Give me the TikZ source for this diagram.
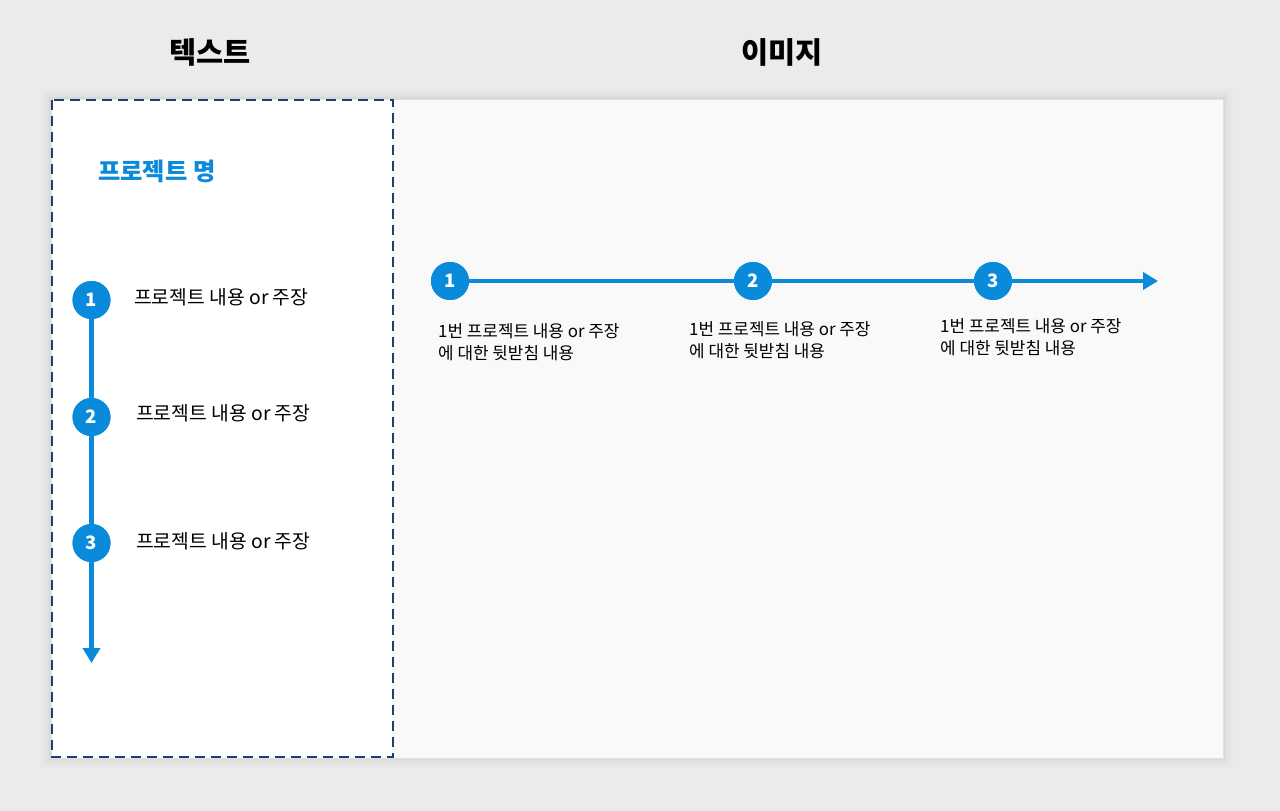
\documentclass[tikz,border=0pt]{standalone}
\usepackage{fontspec}
\setmainfont{Noto Sans CJK KR}
\usetikzlibrary{arrows.meta}
\definecolor{bgc}{HTML}{EBEBEB}
\definecolor{slidec}{HTML}{F9F9F9}
\definecolor{navy}{HTML}{1F3F74}
\definecolor{bluec}{HTML}{0A8ADB}
\begin{document}
\begin{tikzpicture}[x=1pt,y=-1pt,
  num/.style={circle,fill=bluec,minimum size=38pt,inner sep=0pt,text=white,font=\fontsize{18.5}{20}\selectfont\bfseries},
  body/.style={anchor=west,inner sep=0pt,font=\fontsize{19.3}{24}\selectfont,text=black},
  sub/.style={anchor=north west,inner sep=0pt,align=left,font=\fontsize{16.9}{22}\selectfont,text=black},
  title/.style={font=\fontsize{29.5}{30}\selectfont\bfseries,text=black},
  flow/.style={draw=bluec,line width=4.5pt,-{Triangle[length=15pt,width=17pt]}}]
\useasboundingbox (0,0) rectangle (1280,811);
\fill[bgc] (0,0) rectangle (1280,811);
% shadow
\foreach \i/\o in {10/0.012,7/0.015,4/0.02,2/0.025}{\fill[black,opacity=\o] (51-\i,99-\i) rectangle (1223+\i,758+\i);}
\fill[slidec,draw=black!12,line width=0.8pt] (51,99) rectangle (1223,758);
\fill[white] (52,100) rectangle (393,757);
\draw[navy,line width=2.4pt,dash pattern=on 10pt off 6pt] (52,100) rectangle (393,757);
% titles
\node[title] (t1) at (210,52) {텍스트};
\node[title] (t2) at (782,52) {이미지};
\node[anchor=west,inner sep=0pt,font=\fontsize{24.3}{26}\selectfont\bfseries,text=bluec] (pn) at (98,171) {프로젝트 명};
% left vertical flow
\node[num] (a1) at (91.5,300) {1};
\node[num] (a2) at (91.5,417) {2};
\node[num] (a3) at (91.5,543) {3};
\coordinate (aend) at (91.5,663);
\draw[flow] (a1) -- (aend);
\node[num] at (91.5,300) {1};
\node[num] at (91.5,417) {2};
\node[num] at (91.5,543) {3};
\node[body] (l1) at (134,297) {프로젝트 내용 or 주장};
\node[body] (l2) at (136,413) {프로젝트 내용 or 주장};
\node[body] (l3) at (136,541) {프로젝트 내용 or 주장};
% right horizontal flow
\node[num] (b1) at (450,281) {1};
\node[num] (b2) at (753,281) {2};
\node[num] (b3) at (993,281) {3};
\coordinate (bend) at (1158,281);
\draw[flow] (b1) -- (bend);
\node[num] at (450,281) {1};
\node[num] at (753,281) {2};
\node[num] at (993,281) {3};
\node[sub] (r1) at (438,323) {1번 프로젝트 내용 or 주장\\에 대한 뒷받침 내용};
\node[sub] (r2) at (689,321) {1번 프로젝트 내용 or 주장\\에 대한 뒷받침 내용};
\node[sub] (r3) at (940,318) {1번 프로젝트 내용 or 주장\\에 대한 뒷받침 내용};
\end{tikzpicture}
\end{document}
